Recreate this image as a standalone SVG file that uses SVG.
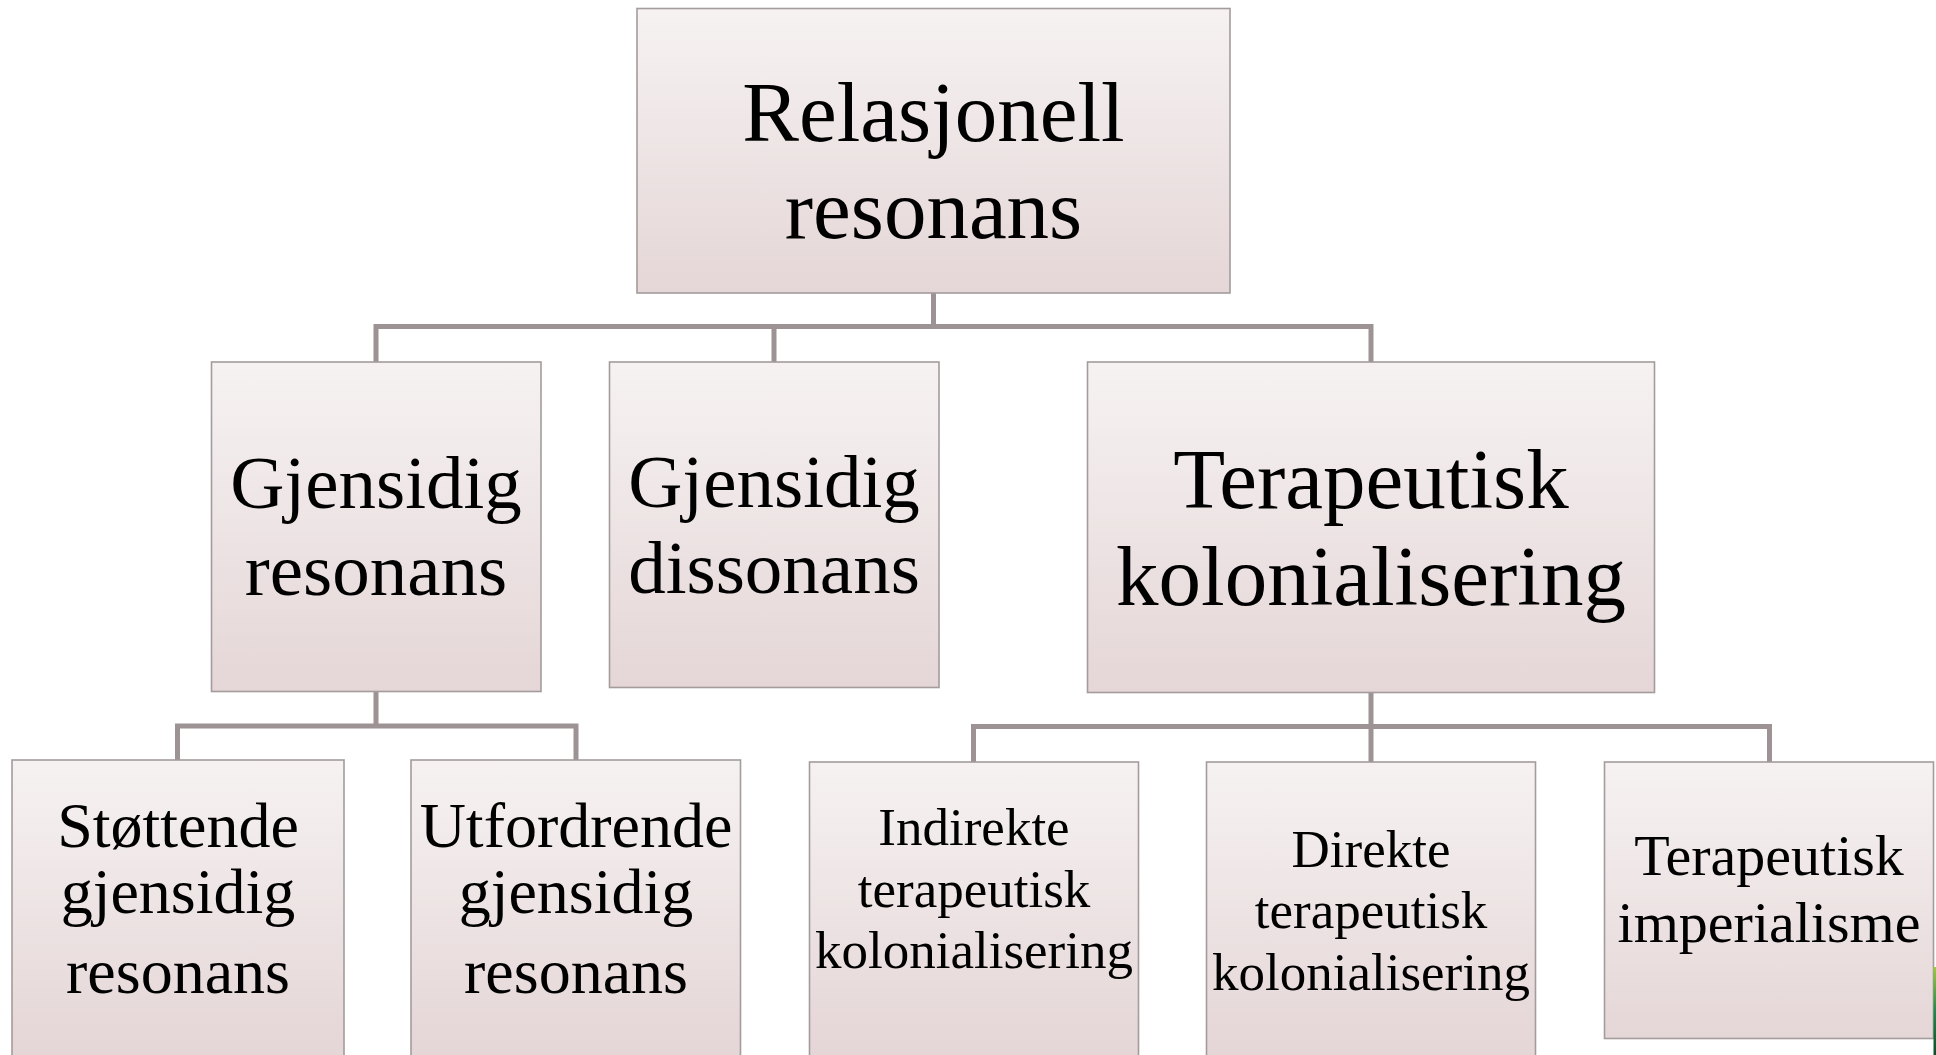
<svg xmlns="http://www.w3.org/2000/svg" width="1936" height="1055" viewBox="0 0 1936 1055">
<defs>
<linearGradient id="boxFill" x1="0" y1="0" x2="0" y2="1">
<stop offset="0" stop-color="#f6f2f2"/>
<stop offset="1" stop-color="#e5d6d7"/>
</linearGradient>
<linearGradient id="boxFillTall" gradientUnits="userSpaceOnUse" x1="0" y1="760" x2="0" y2="1045">
<stop offset="0" stop-color="#f6f2f2"/>
<stop offset="1" stop-color="#e5d6d7"/>
</linearGradient>
<linearGradient id="green" x1="0" y1="0" x2="0" y2="1">
<stop offset="0" stop-color="#9ccc3a"/>
<stop offset="0.5" stop-color="#1d8a4a"/>
<stop offset="1" stop-color="#0d4d2a"/>
</linearGradient>
</defs>
<style>
.box{fill:url(#boxFill);stroke:#a49c9c;stroke-width:1.6}
.boxb{fill:url(#boxFillTall);stroke:#a49c9c;stroke-width:1.6}
.conn{fill:none;stroke:#9e9394;stroke-width:5}
text{font-family:"Liberation Serif","Times New Roman",serif;fill:#000;text-anchor:middle}
.t85{font-size:85px}
.t75{font-size:75px}
.t64{font-size:64px}
.t58{font-size:58px}
.t53{font-size:53px}
</style>
<rect width="1936" height="1055" fill="#ffffff"/>
<g id="connectors">
<path class="conn" d="M933.5 293V326.5M376 362V326.5H1371V362M774 326.5V362"/>
<path class="conn" d="M376 691V726M177.5 760V726H576V760"/>
<path class="conn" d="M1371 692V726.5M973.5 762V726.5H1769.5V762M1371 726.5V762"/>
</g>
<g id="root">
<rect class="box" x="637" y="8.5" width="593" height="284.5"/>
<text class="t85" x="933.5" y="141">Relasjonell</text>
<text class="t85" x="933.5" y="238">resonans</text>
</g>
<g id="gjensidig-resonans">
<rect class="box" x="211.5" y="362" width="329.5" height="329.5"/>
<text class="t75" x="376" y="508">Gjensidig</text>
<text class="t75" x="376" y="595">resonans</text>
</g>
<g id="gjensidig-dissonans">
<rect class="box" x="609.5" y="362" width="329.5" height="325.5"/>
<text class="t75" x="774" y="507">Gjensidig</text>
<text class="t75" x="774" y="593">dissonans</text>
</g>
<g id="terapeutisk-kolonialisering">
<rect class="box" x="1087.5" y="362" width="567" height="330.5"/>
<text class="t85" x="1371" y="508">Terapeutisk</text>
<text class="t85" x="1371" y="605">kolonialisering</text>
</g>
<g id="stottende">
<rect class="boxb" x="12" y="760" width="332" height="310"/>
<text class="t64" x="178" y="847">Støttende</text>
<text class="t64" x="178" y="913">gjensidig</text>
<text class="t64" x="178" y="993">resonans</text>
</g>
<g id="utfordrende">
<rect class="boxb" x="411" y="760" width="329.5" height="310"/>
<text class="t64" x="576" y="847">Utfordrende</text>
<text class="t64" x="576" y="913">gjensidig</text>
<text class="t64" x="576" y="993">resonans</text>
</g>
<g id="indirekte">
<rect class="boxb" x="809.5" y="762" width="329" height="310"/>
<text class="t53" x="974" y="845">Indirekte</text>
<text class="t53" x="974" y="907">terapeutisk</text>
<text class="t53" x="974" y="968">kolonialisering</text>
</g>
<g id="direkte">
<rect class="boxb" x="1206.5" y="762" width="329" height="310"/>
<text class="t53" x="1371" y="867">Direkte</text>
<text class="t53" x="1371" y="928">terapeutisk</text>
<text class="t53" x="1371" y="990">kolonialisering</text>
</g>
<g id="imperialisme">
<rect class="box" x="1604.5" y="762" width="329" height="276.5"/>
<text class="t58" x="1769" y="875">Terapeutisk</text>
<text class="t58" x="1769" y="942">imperialisme</text>
</g>
<rect x="1933.5" y="967" width="2.5" height="88" fill="url(#green)"/>
</svg>
